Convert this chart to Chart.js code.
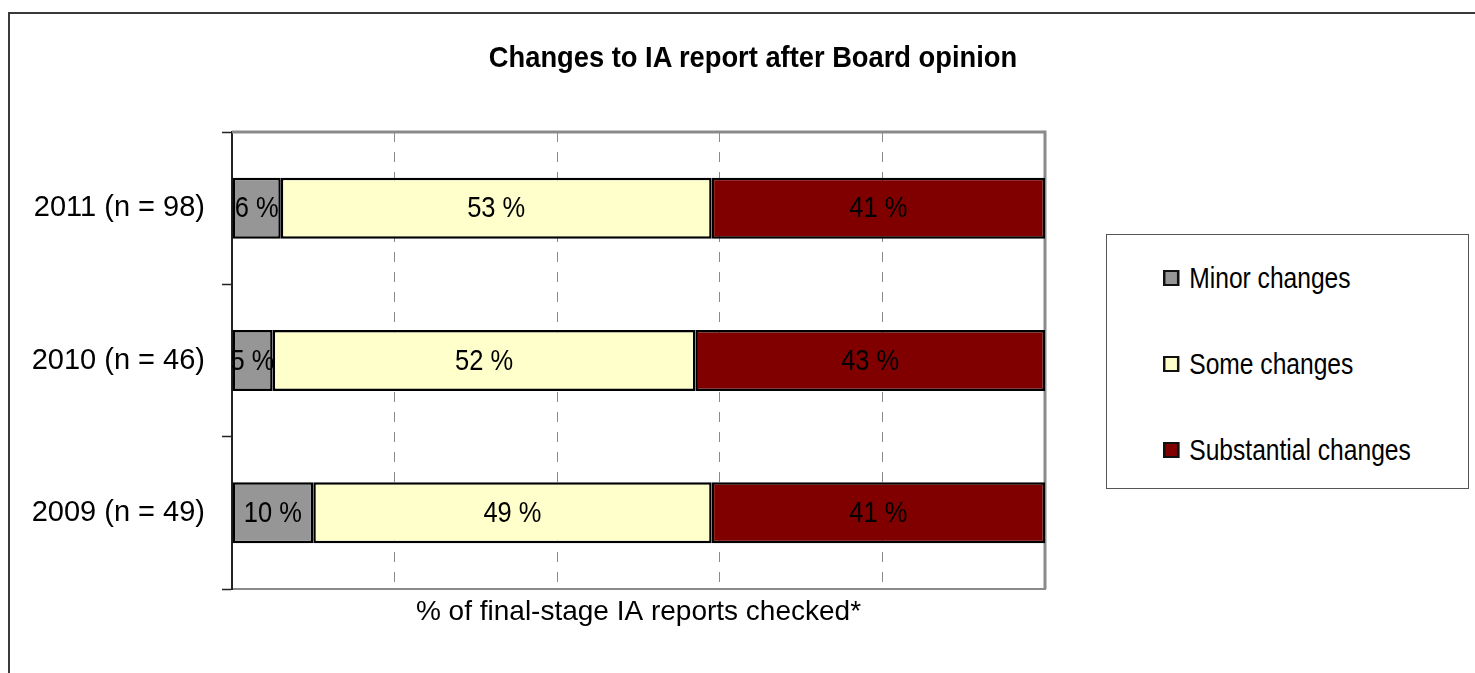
<!DOCTYPE html>
<html>
<head>
<meta charset="utf-8">
<script src="https://cdn.jsdelivr.net/npm/chart.js@4/dist/chart.umd.min.js"></script>
<style>
  html, body { margin: 0; padding: 0; background: #fff; }
  body { width: 1475px; height: 673px; position: relative; overflow: hidden;
         font-family: 'Liberation Sans', Arial, sans-serif; }
  .outer_frame { position: absolute; left: 8px; top: 12px; width: 1480px; height: 700px;
                 border-top: 2px solid #3a3a3a; border-left: 2px solid #3a3a3a; }
  #my_chart { position: absolute; left: 0; top: 0; }
  .chart_title { position: absolute; left: 353px; width: 800px; top: 37px; text-align: center;
                 font-weight: bold; font-size: 30px; line-height: 40px; color: #000;
                 transform: scaleX(0.91); transform-origin: 400px 0; }
  .legend_box { position: absolute; left: 1106px; top: 234px; width: 363px; height: 255px;
                box-sizing: border-box; border: 1.5px solid #555; background: #fff; }
  .legend_item { position: absolute; left: 56px; height: 36px; font-size: 30px; line-height: 36px;
                 display: flex; align-items: center; color: #000; white-space: nowrap;
                 transform: scaleX(0.82); transform-origin: 0 0; }
  .legend_swatch { width: 14px; height: 12px; border: 2px solid #111; border-left-width: 3px; border-right-width: 3px;
                   margin-right: 12px; }
</style>
</head>
<body>
<div class="outer_frame"></div>
<canvas id="my_chart" width="1475" height="673"></canvas>
<div class="chart_title">Changes to IA report after Board opinion</div>
<div class="legend_box"></div>

<script>
const categories = ['2011 (n = 98)', '2010 (n = 46)', '2009 (n = 49)'];
const minorChanges = [6, 5, 10];
const someChanges = [53, 52, 49];
const substantialChanges = [41, 43, 41];
const seriesNames = ['Minor changes', 'Some changes', 'Substantial changes'];
const seriesColors = ['#969696', '#ffffcc', '#800000'];
const xTicks = [0, 20, 40, 60, 80, 100];
const xTitle = '% of final-stage IA reports checked*';

const fontFamily = "'Liberation Sans', Arial, sans-serif";
const ctx = document.getElementById('my_chart');

// percent labels in the middle of each segment (squeezed a bit, like the narrow font)
const barLabels = {
    id: 'barLabels',
    afterDatasetsDraw(chart) {
        const c = chart.ctx;
        const area = chart.chartArea;
        c.save();
        c.beginPath();
        c.rect(area.left, area.top, area.right - area.left, area.bottom - area.top);
        c.clip();
        c.font = '30px ' + fontFamily;
        c.fillStyle = '#000';
        c.textAlign = 'center';
        c.textBaseline = 'middle';
        chart.data.datasets.forEach((ds, i) => {
            chart.getDatasetMeta(i).data.forEach((bar, j) => {
                const p = bar.getProps(['x', 'y', 'base'], true);
                c.save();
                c.translate((p.x + p.base) / 2, p.y + 1);
                c.scale(0.85, 1);
                c.fillText(ds.data[j] + ' %', 0, 0);
                c.restore();
            });
        });
        c.restore();
    }
};

// grey top and right edge of the plot area
const plotFrame = {
    id: 'plotFrame',
    beforeDatasetsDraw(chart) {
        const c = chart.ctx;
        const a = chart.chartArea;
        c.save();
        c.strokeStyle = '#8a8a8a';
        c.lineWidth = 3;
        c.beginPath();
        c.moveTo(a.left, a.top);
        c.lineTo(a.right, a.top);
        c.lineTo(a.right, a.bottom);
        c.stroke();
        c.restore();
    }
};

const datasetValues = [minorChanges, someChanges, substantialChanges];

var myChart = new Chart(ctx, {
    type: 'bar',
    data: {
        labels: categories,
        datasets: datasetValues.map((values, i) => ({
            label: seriesNames[i],
            data: values,
            backgroundColor: seriesColors[i],
            borderColor: '#000',
            borderWidth: 2.5,
            borderSkipped: false,
            categoryPercentage: 0.4,
            barPercentage: 1.0
        }))
    },
    options: {
        responsive: false,
        animation: false,
        indexAxis: 'y',
        layout: {
            padding: { left: 0, top: 132, right: 430, bottom: 0 }
        },
        scales: {
            x: {
                stacked: true,
                min: 0,
                max: 100,
                afterBuildTicks: (scale) => {
                    scale.ticks = xTicks.map(v => ({ value: v }));
                },
                afterFit: (scale) => {
                    scale.height = 84;
                },
                ticks: { display: false },
                grid: {
                    drawTicks: false,
                    lineWidth: 1,
                    color: (c) => (c.tick && (c.tick.value === 0 || c.tick.value === 100)) ? 'rgba(0,0,0,0)' : '#8a8a8a'
                },
                border: { color: '#8a8a8a', width: 2, dash: [10, 10] },
                title: {
                    display: true,
                    text: xTitle,
                    color: '#000',
                    font: { family: fontFamily, size: 28 },
                    padding: { top: 0, bottom: 44 }
                }
            },
            y: {
                stacked: true,
                afterFit: (scale) => {
                    scale.width = 232;
                },
                ticks: {
                    color: '#000',
                    padding: 17,
                    font: { family: fontFamily, size: 29 }
                },
                grid: {
                    drawOnChartArea: false,
                    drawTicks: true,
                    tickLength: 10,
                    tickColor: '#222',
                    tickWidth: 1.5
                },
                border: { color: '#222', width: 2 }
            }
        },
        plugins: {
            legend: { display: false },
            title: { display: false },
            tooltip: { enabled: false }
        }
    },
    plugins: [plotFrame, barLabels]
});

// legend box built from the chart's datasets
const legendBox = document.querySelector('.legend_box');
const legendRows = [25, 111, 197];
myChart.data.datasets.forEach((ds, i) => {
    const item = document.createElement('div');
    item.className = 'legend_item';
    item.style.top = legendRows[i] + 'px';
    const sw = document.createElement('span');
    sw.className = 'legend_swatch';
    sw.style.background = ds.backgroundColor;
    const txt = document.createElement('span');
    txt.textContent = ds.label;
    item.appendChild(sw);
    item.appendChild(txt);
    legendBox.appendChild(item);
});
</script>
</body>
</html>
